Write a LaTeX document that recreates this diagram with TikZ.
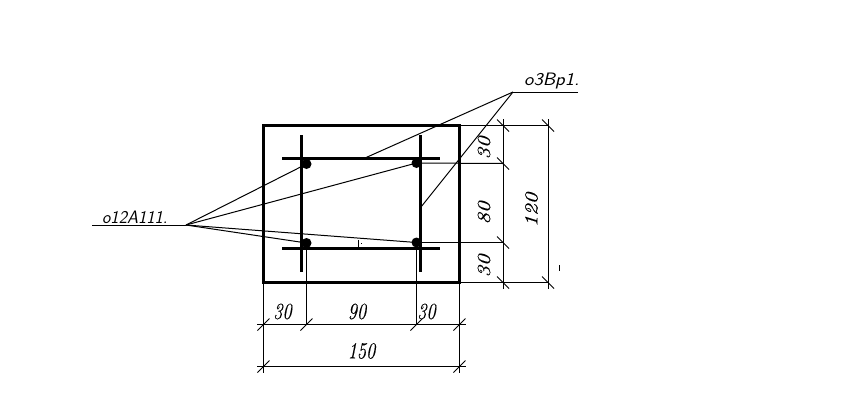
\documentclass[tikz,border=0pt]{standalone}
\usepackage{fontspec}
\usepackage{tikz}
\usetikzlibrary{calc}
\newfontfamily\dimfont[ItalicFeatures={FakeBold=0.35}]{Latin Modern Roman}
\tikzset{x=1pt, y=-1pt,
     thin line/.style={draw=black, line width=1pt},
     bar line/.style={draw=black, line width=3pt},
     outline/.style={draw=black, line width=3pt},
     dim label/.style={font=\fontsize{23}{23}\dimfont\itshape, inner sep=0pt, xscale=.8, transform shape},
     mark label/.style={font=\fontsize{18}{18}\selectfont\sffamily\itshape, inner sep=0pt, transform shape, anchor=south west}
     }
% slanted tick at a dimension point
\def\DimTick#1{%
\draw[thin line] ($(#1)+(-6,-6)$) -- ($(#1)+(6,6)$);
}
\def\DimTickB#1{%
\draw[thin line] ($(#1)+(-6,6)$) -- ($(#1)+(6,-6)$);
}
\begin{document}
\begin{tikzpicture}
\useasboundingbox (0,0) rectangle (844,413);
% section
\draw[outline] (263.5,125.5) rectangle (459.5,282.5);
\draw[bar line] (301.5,135) -- (301.5,272);
\draw[bar line] (420.5,135) -- (420.5,272);
\draw[bar line] (282,158.5) -- (440,158.5);
\draw[bar line] (282,248.5) -- (440,248.5);
% bars
\coordinate (barA) at (306.5,164);
\coordinate (barB) at (416.5,163);
\coordinate (barC) at (306.5,243);
\coordinate (barD) at (416.5,242.5);
\foreach \b in {barA,barB,barC,barD}
  \fill (\b) circle (5);
% leaders
\coordinate (hubA) at (186,225);
\coordinate (hubB) at (513,92);
\coordinate (endA) at (92,225);
\coordinate (endB) at (578,92);
\coordinate (stirA) at (365,158);
\coordinate (stirB) at (421,207);
\draw[thin line] (endA) -- (hubA);
\draw[thin line] (endB) -- (hubB);
\foreach \b in {barA,barB,barC,barD}
  \draw[thin line] (hubA) -- (\b);
\draw[thin line] (hubB) -- (stirA);
\draw[thin line] (hubB) -- (stirB);
\node[mark label, xscale=.98] (markA) at (102,224) {o12A111.};
\node[mark label, xscale=1.1] (markB) at (524,89) {o3Bp1.};
% stray marks
\draw[thin line] (358.5,240) -- (358.5,247);
\fill (361,243) rectangle +(1,1);
\draw[thin line] (559.5,265) -- (559.5,271);
% dimensions right
\draw[thin line] (459.5,125.5) -- (548,125.5);
\draw[thin line] (459.5,282.5) -- (548,282.5);
\draw[thin line] (barB) -- (503,163.5);
\draw[thin line] (barD) -- (503,242.5);
\draw[thin line] (503,119) -- (503,289);
\draw[thin line] (548,119) -- (548,289);
\foreach \y in {125.5,163.5,242.5,282.5}
  {\DimTick{503,\y}}
\foreach \y in {125.5,282.5}
  {\DimTick{548,\y}}
\node[dim label, rotate=90] (dimA) at (484,148) {30};
\node[dim label, rotate=90] (dimB) at (484,213) {80};
\node[dim label, rotate=90] (dimC) at (484,266) {30};
\node[dim label, rotate=90] (dimD) at (531.5,210) {120};
% dimensions bottom
\draw[thin line] (263.5,282.5) -- (263.5,373);
\draw[thin line] (459.5,282.5) -- (459.5,373);
\draw[thin line] (barC) -- (306.5,324.5);
\draw[thin line] (barD) -- (416.5,324.5);
\draw[thin line] (257,324.5) -- (466,324.5);
\draw[thin line] (257,366.5) -- (466,366.5);
\foreach \x in {263.5,306.5,416.5,459.5}
  {\DimTickB{\x,324.5}}
\foreach \x in {263.5,459.5}
  {\DimTickB{\x,366.5}}
\node[dim label] (dimE) at (282.5,311.5) {30};
\node[dim label] (dimF) at (357,311.5) {90};
\node[dim label] (dimG) at (426.5,311.5) {30};
\node[dim label] (dimH) at (361.5,351) {150};
\end{tikzpicture}
\end{document}
